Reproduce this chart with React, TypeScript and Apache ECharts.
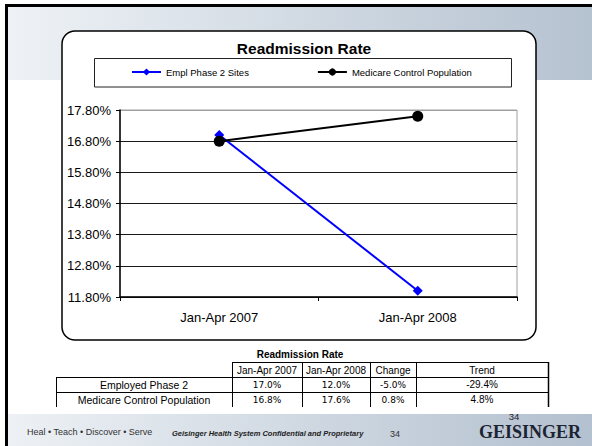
import React, { useEffect, useRef } from "react";
import * as echarts from "echarts";

const categories = ["Jan-Apr 2007", "Jan-Apr 2008"];
const emplPhase2 = [17.0, 12.0];
const medicareControl = [16.8, 17.6];
const seriesNames = ["Empl Phase 2 Sites", "Medicare Control Population"];
const yTicks = { min: 11.8, max: 17.8, step: 1 };
const tableTitle = "Readmission Rate";
const tableHeaders = ["Jan-Apr 2007", "Jan-Apr 2008", "Change", "Trend"];
const tableRowNames = ["Employed Phase 2", "Medicare Control Population"];
const tableRowValues = [emplPhase2, medicareControl];

const FONT = "'Liberation Sans', Arial, sans-serif";

export default function App() {
  const ref = useRef<HTMLDivElement>(null);
  useEffect(() => {
    if (!ref.current) return;
    const chart = echarts.init(ref.current, undefined, { renderer: "svg" });

    const g: any[] = [];
    g.push({
      type: "rect", z: -100,
      shape: { x: 8, y: 7, width: 584, height: 73 },
      style: { fill: new echarts.graphic.LinearGradient(0, 0, 1, 0, [
        { offset: 0, color: "#eef2f6" }, { offset: 1, color: "#b5c2d0" }]) },
    });
    g.push({
      type: "rect", z: -100,
      shape: { x: 8, y: 414, width: 584, height: 32 },
      style: { fill: new echarts.graphic.LinearGradient(0, 0, 1, 0, [
        { offset: 0, color: "#edf1f5" }, { offset: 1, color: "#b3c0cf" }]) },
    });
    g.push({ type: "rect", z: -90, shape: { x: 5, y: 4, width: 587, height: 3 }, style: { fill: "#000" } });
    g.push({ type: "rect", z: -90, shape: { x: 5, y: 4, width: 3, height: 442 }, style: { fill: "#000" } });
    g.push({
      type: "rect", z: -80,
      shape: { x: 62, y: 31, width: 474, height: 309, r: 13 },
      style: { fill: "#fff", stroke: "#000", lineWidth: 1.5 },
    });
    g.push({
      type: "rect", z: -70,
      shape: { x: 94.5, y: 58.5, width: 417, height: 28.5 },
      style: { fill: "#fff", stroke: "#222", lineWidth: 1 },
    });
    g.push({
      type: "text", x: 304, y: 48,
      style: { text: "Readmission Rate", fontSize: 15.5, fontWeight: "bold", fontFamily: FONT, fill: "#000", align: "center", verticalAlign: "middle" },
    });

    const colX = [56, 232, 302, 370, 416, 548];
    const rowY = [362, 377, 392, 407];
    g.push({
      type: "text", x: 300, y: 354,
      style: { text: tableTitle, fontSize: 10, fontWeight: "bold", fontFamily: FONT, fill: "#000", align: "center", verticalAlign: "middle" },
    });
    const line = (x1: number, y1: number, x2: number, y2: number, w = 1) => ({
      type: "line", z: 10, shape: { x1, y1, x2, y2 }, style: { stroke: "#000", lineWidth: w },
    });
    g.push(line(colX[1], rowY[0] + 0.5, colX[5], rowY[0] + 0.5));
    g.push(line(colX[0], rowY[1] + 0.5, colX[5], rowY[1] + 0.5));
    g.push(line(colX[0], rowY[2] + 0.5, colX[5], rowY[2] + 0.5));
    g.push(line(colX[0] + 0.5, rowY[1], colX[0] + 0.5, rowY[3]));
    for (let i = 1; i < colX.length; i++) {
      g.push(line(colX[i] + 0.5, rowY[0], colX[i] + 0.5, rowY[3], i === colX.length - 1 ? 1.5 : 1));
    }
    tableHeaders.forEach((h, i) => {
      g.push({
        type: "text", z: 10, x: (colX[i + 1] + colX[i + 2]) / 2, y: (rowY[0] + rowY[1]) / 2 + 0.5,
        style: { text: h, fontSize: 10, fontFamily: FONT, fill: "#000", align: "center", verticalAlign: "middle" },
      });
    });
    tableRowNames.forEach((name, r) => {
      const cy = (rowY[r + 1] + rowY[r + 2]) / 2 + 0.5;
      const vals = tableRowValues[r];
      const change = vals[1] - vals[0];
      const trend = (change / vals[0]) * 100;
      const cells = [vals[0].toFixed(1) + "%", vals[1].toFixed(1) + "%", change.toFixed(1) + "%"];
      g.push({
        type: "text", z: 10, x: (colX[0] + colX[1]) / 2, y: cy,
        style: { text: name, fontSize: 10.5, fontFamily: FONT, fill: "#000", align: "center", verticalAlign: "middle" },
      });
      cells.forEach((c, i) => {
        g.push({
          type: "text", z: 10, x: (colX[i + 1] + colX[i + 2]) / 2, y: cy,
          style: { text: c, fontSize: 9, fontFamily: "'DejaVu Sans', Verdana, sans-serif", fill: "#000", align: "center", verticalAlign: "middle" },
        });
      });
      g.push({
        type: "text", z: 10, x: (colX[4] + colX[5]) / 2, y: cy - 1,
        style: { text: trend.toFixed(1) + "%", fontSize: 10, fontFamily: FONT, fill: "#000", align: "center", verticalAlign: "middle" },
      });
    });

    g.push({
      type: "text", x: 27, y: 432,
      style: { text: "Heal \u2022 Teach \u2022 Discover \u2022 Serve", fontSize: 9, fontFamily: FONT, fill: "#333", align: "left", verticalAlign: "middle" },
    });
    g.push({
      type: "text", x: 172, y: 433,
      style: { text: "Geisinger Health System Confidential and Proprietary", fontSize: 7.5, fontStyle: "italic", fontWeight: "bold", fontFamily: FONT, fill: "#222", align: "left", verticalAlign: "middle" },
    });
    g.push({
      type: "text", x: 390, y: 434,
      style: { text: "34", fontSize: 9, fontFamily: FONT, fill: "#333", align: "left", verticalAlign: "middle" },
    });
    g.push({
      type: "text", x: 530, y: 432,
      style: { text: "GEISINGER", fontSize: 18, fontWeight: "bold", fontFamily: "'Liberation Serif', 'Times New Roman', serif", fill: "#1c2433", align: "center", verticalAlign: "middle" },
    });
    g.push({
      type: "text", x: 514, y: 416,
      style: { text: "34", fontSize: 9.5, fontFamily: FONT, fill: "#1c2433", align: "center", verticalAlign: "middle" },
    });

    chart.setOption({
      animation: false,
      backgroundColor: "#fff",
      textStyle: { fontFamily: FONT },
      graphic: { elements: g },
      legend: {
        data: seriesNames,
        left: 131, top: 67,
        itemWidth: 29, itemHeight: 9, itemGap: 68,
        textStyle: { fontSize: 9.5, fontFamily: FONT, color: "#000" },
        padding: 0,
      },
      grid: {
        left: 120, right: 75, top: 110, bottom: 149,
        show: true, borderColor: "#a0a0a0", borderWidth: 1, backgroundColor: "transparent",
      },
      xAxis: {
        type: "category",
        data: categories,
        boundaryGap: true,
        axisLine: { lineStyle: { color: "#000", width: 1.5 } },
        axisTick: { show: true, length: 4, lineStyle: { color: "#000" } },
        axisLabel: { fontSize: 13, color: "#000", margin: 14, fontFamily: FONT },
      },
      yAxis: {
        type: "value",
        min: yTicks.min, max: yTicks.max, interval: yTicks.step,
        axisLine: { show: true, lineStyle: { color: "#000", width: 1.5 } },
        axisTick: { show: true, length: 4, lineStyle: { color: "#000" } },
        axisLabel: { fontSize: 13, color: "#000", margin: 9, fontFamily: FONT, formatter: (v: number) => v.toFixed(2) + "%" },
        splitLine: { show: true, lineStyle: { color: ["#1a1a1a", "#1a1a1a", "#1a1a1a", "#1a1a1a", "#1a1a1a", "#1a1a1a", "#a0a0a0"], width: 1 } },
      },
      series: [
        {
          name: seriesNames[0], type: "line", data: emplPhase2,
          symbol: "diamond", symbolSize: 10,
          lineStyle: { color: "#0000ff", width: 2 },
          itemStyle: { color: "#0000ff" },
          z: 3,
        },
        {
          name: seriesNames[1], type: "line", data: medicareControl,
          symbol: "circle", symbolSize: 11,
          lineStyle: { color: "#000", width: 2 },
          itemStyle: { color: "#000" },
          z: 4,
        },
      ],
    });
    return () => chart.dispose();
  }, []);
  return <div ref={ref} style={{ position: "fixed", left: 0, top: 0, width: 592, height: 446 }} />;
}
